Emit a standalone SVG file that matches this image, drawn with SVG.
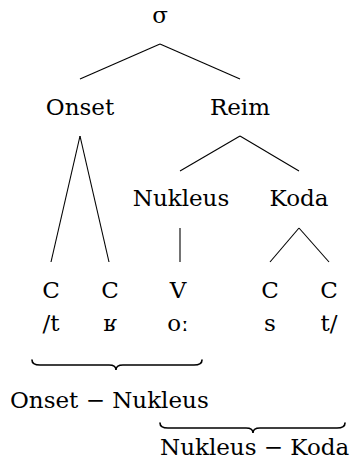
<svg xmlns="http://www.w3.org/2000/svg" width="350" height="466" viewBox="0 0 350 466">
<style>
.t text{font-family:"DejaVu Serif","Liberation Serif",serif;font-size:23px;fill:#000;text-anchor:middle}
.l{stroke:#000;stroke-width:1.1;fill:none}
.b{stroke:#000;stroke-width:1.6;fill:none;stroke-linecap:round}
</style>
<rect width="350" height="466" fill="#fff"/>
<g id="connectors">
<line class="l" x1="160" y1="44" x2="80" y2="79"/>
<line class="l" x1="160" y1="44" x2="240" y2="79"/>
<line class="l" x1="80" y1="136" x2="51" y2="262"/>
<line class="l" x1="80" y1="136" x2="109" y2="262"/>
<line class="l" x1="240" y1="136" x2="180" y2="171"/>
<line class="l" x1="240" y1="136" x2="299" y2="171"/>
<line class="l" x1="180" y1="228" x2="180" y2="262"/>
<line class="l" x1="299" y1="228" x2="270" y2="262"/>
<line class="l" x1="299" y1="228" x2="329" y2="262"/>
</g>
<g class="t">
<g id="sigma"><text x="160" y="23">σ</text></g>
<g id="onset"><text x="80" y="115">Onset</text></g>
<g id="reim"><text x="240" y="115">Reim</text></g>
<g id="nukleus"><text x="181" y="206">Nukleus</text></g>
<g id="koda"><text x="299" y="206">Koda</text></g>
<g id="c1"><text x="51" y="298">C</text><text x="51" y="331">/t</text></g>
<g id="c2"><text x="110" y="298">C</text><text x="110" y="331">ʁ</text></g>
<g id="v"><text x="178" y="298">V</text><text x="178" y="331">oː</text></g>
<g id="c3"><text x="270" y="298">C</text><text x="270" y="331">s</text></g>
<g id="c4"><text x="329" y="298">C</text><text x="329" y="331">t/</text></g>
<g id="brace1">
<path class="b" d="M32,360 Q32,365 40,365 L109,365 Q116,365 116,370 Q116,365 123,365 L194,365 Q202,365 202,360"/>
<text x="10" y="408" style="text-anchor:start">Onset − Nukleus</text>
</g>
<g id="brace2">
<path class="b" d="M160,423 Q160,428 168,428 L246,428 Q253,428 253,433 Q253,428 260,428 L337,428 Q345,428 345,423"/>
<text x="160" y="455" style="text-anchor:start">Nukleus − Koda</text>
</g>
</g>
</svg>
